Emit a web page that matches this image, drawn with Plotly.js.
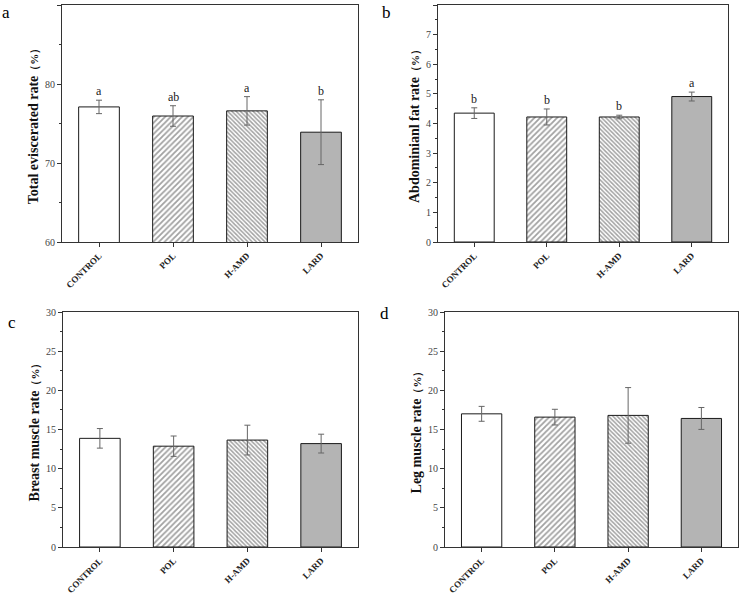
<!DOCTYPE html>
<html>
<head>
<meta charset="utf-8">
<script src="https://cdn.plot.ly/plotly-3.0.1.min.js"></script>
<style>html,body{margin:0;padding:0;background:#fff}#chart{width:740px;height:594px}</style>
</head>
<body>
<div id="chart"></div>
<script>
const categories = ["CONTROL", "POL", "H-AMD", "LARD"];

const eviscerated = [77.1, 75.95, 76.6, 73.9];
const evisceratedErr = [0.85, 1.3, 1.8, 4.1];
const evisceratedLetters = ["a", "ab", "a", "b"];

const abdominalFat = [4.35, 4.22, 4.22, 4.91];
const abdominalFatErr = [0.18, 0.27, 0.06, 0.15];
const abdominalFatLetters = ["b", "b", "b", "a"];

const breastMuscle = [13.87, 12.87, 13.65, 13.2];
const breastMuscleErr = [1.25, 1.3, 1.9, 1.2];

const legMuscle = [17.0, 16.58, 16.8, 16.41];
const legMuscleErr = [0.95, 1.0, 3.55, 1.4];

const panelLetters = ["a", "b", "c", "d"];
const yTitleNames = ["Total eviscerated rate", "Abdominianl fat rate", "Breast muscle rate", "Leg muscle rate"];
const yTitleUnit = "（%）";

const fillColors = ["#ffffff", "#ffffff", "#ffffff", "#b4b4b4"];
const patternShapes = ["", "/", "\\", ""];
const patternSizes = [8, 4, 3, 8];
const patternSolidity = [0.3, 0.45, 0.5, 0.3];

const serif = "Liberation Serif, Times New Roman, serif";

const panels = [
  {y: eviscerated, e: evisceratedErr, letters: evisceratedLetters, range: [60, 90], dtick: 10, minor: 5,
   xd: [62/740, 358/740], yd: [1 - 242/594, 1 - 5/594]},
  {y: abdominalFat, e: abdominalFatErr, letters: abdominalFatLetters, range: [0, 8], dtick: 1, minor: 0.5,
   xd: [438/740, 728/740], yd: [1 - 242/594, 1 - 5/594]},
  {y: breastMuscle, e: breastMuscleErr, letters: null, range: [0, 30], dtick: 5, minor: 2.5,
   xd: [63/740, 358/740], yd: [1 - 547/594, 1 - 312/594]},
  {y: legMuscle, e: legMuscleErr, letters: null, range: [0, 30], dtick: 5, minor: 2.5,
   xd: [445/740, 738/740], yd: [1 - 547/594, 1 - 312/594]}
];

const letterPos = [[6, 13], [386, 13], [12, 322], [384, 313]];

const traces = [];
const annotations = [];
const layout = {
  width: 740, height: 594,
  margin: {l: 0, r: 0, t: 0, b: 0},
  paper_bgcolor: "#fff", plot_bgcolor: "#fff",
  showlegend: false,
  bargap: 0.45,
  font: {family: serif, color: "#222"},
  annotations: annotations
};

panels.forEach((p, i) => {
  const n = i === 0 ? "" : String(i + 1);
  traces.push({
    type: "bar",
    x: categories,
    y: p.y,
    xaxis: "x" + n,
    yaxis: "y" + n,
    marker: {
      color: fillColors,
      line: {color: "#1a1a1a", width: 1},
      pattern: {shape: patternShapes, size: patternSizes, solidity: patternSolidity,
                fgcolor: "#000", bgcolor: fillColors, fillmode: "overlay"}
    },
    error_y: {type: "data", array: p.e, visible: true, color: "#666", thickness: 1, width: 3},
    hoverinfo: "skip"
  });
  layout["xaxis" + n] = {
    domain: p.xd, anchor: "y" + n,
    showline: true, mirror: true, linecolor: "#333", linewidth: 1,
    ticks: "outside", ticklen: 4, tickcolor: "#333",
    tickangle: -45,
    tickfont: {family: serif, size: 9, color: "#222", weight: "bold"},
    showgrid: false, zeroline: false, fixedrange: true
  };
  layout["yaxis" + n] = {
    domain: p.yd, anchor: "x" + n,
    range: p.range, dtick: p.dtick,
    showline: true, mirror: true, linecolor: "#333", linewidth: 1,
    ticks: "outside", ticklen: 4, tickcolor: "#333",
    minor: {dtick: p.minor, ticks: "outside", ticklen: 2, tickcolor: "#333", showgrid: false},
    tickfont: {family: serif, size: 10, color: "#444"},
    title: {text: yTitleNames[i] + "<span style='font-size:11px'>" + yTitleUnit + "</span>",
            font: {family: serif, size: 14, color: "#111", weight: "bold"}, standoff: 3},
    showgrid: false, zeroline: false, fixedrange: true
  };
  if (p.letters) {
    p.letters.forEach((t, k) => {
      annotations.push({
        xref: "x" + n, yref: "y" + n,
        x: categories[k], y: p.y[k] + p.e[k],
        text: t, showarrow: false, yanchor: "bottom", yshift: 0,
        font: {family: serif, size: 12, color: "#222"}
      });
    });
  }
  annotations.push({
    xref: "paper", yref: "paper",
    x: letterPos[i][0] / 740, y: 1 - letterPos[i][1] / 594,
    text: panelLetters[i], showarrow: false,
    xanchor: "center", yanchor: "middle",
    font: {family: serif, size: 17, color: "#000"}
  });
});

Plotly.newPlot("chart", traces, layout, {staticPlot: true, displayModeBar: false});
</script>
</body>
</html>
